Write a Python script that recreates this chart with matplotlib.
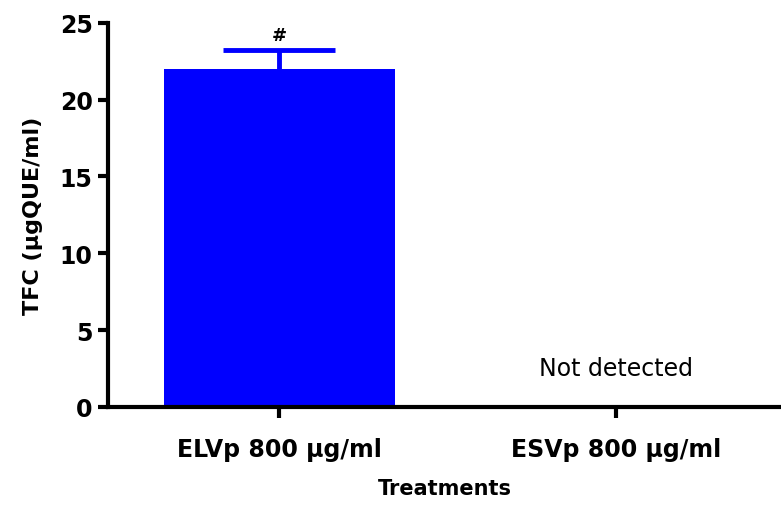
import matplotlib
matplotlib.use('Agg')
from matplotlib import pyplot as plt

# data
treatments = ['ELVp 800 µg/ml', 'ESVp 800 µg/ml']
tfc_values = [22.0, 0.0]
tfc_errors = [1.2, 0.0]
y_ticks = [0, 5, 10, 15, 20, 25]

plt.rcParams['font.family'] = ['DejaVu Sans']

fig = plt.figure(figsize=(7.81, 5.06), dpi=100)
ax = fig.add_axes([0.138, 0.194, 0.862, 0.759])

# error bar under the bar so only the upper half shows
ax.errorbar([0], tfc_values[:1], yerr=tfc_errors[:1], fmt='none',
            ecolor='#0000FF', elinewidth=3.5, capsize=40, capthick=3.5, zorder=1)
ax.bar([0], tfc_values[:1], width=0.685, color='#0000FF', zorder=2)

# annotations
ax.text(0, tfc_values[0] + tfc_errors[0] + 0.4, '#', ha='center', va='bottom',
        fontsize=13, fontweight='bold')
ax.text(1, 2.5, 'Not detected', ha='center', va='center', fontsize=17)

# axes
ax.set_xlim(-0.51, 1.49)
ax.set_ylim(0, 25)
ax.set_yticks(y_ticks)
ax.set_xticks([0, 1])
ax.set_xticklabels(treatments, fontsize=17, fontweight='bold')
ax.tick_params(axis='y', labelsize=17, width=3, length=7, pad=4)
ax.tick_params(axis='x', width=3, length=8, pad=14)
for lbl in ax.get_yticklabels():
    lbl.set_fontweight('bold')

ax.spines['top'].set_visible(False)
ax.spines['right'].set_visible(False)
ax.spines['left'].set_linewidth(3)
ax.spines['bottom'].set_linewidth(3)

# labels
ax.set_ylabel('TFC (µgQUE/ml)', fontsize=16, fontweight='bold', labelpad=12)
ax.set_xlabel('Treatments', fontsize=15, fontweight='bold', labelpad=12)

plt.savefig('out.png', dpi=100)
